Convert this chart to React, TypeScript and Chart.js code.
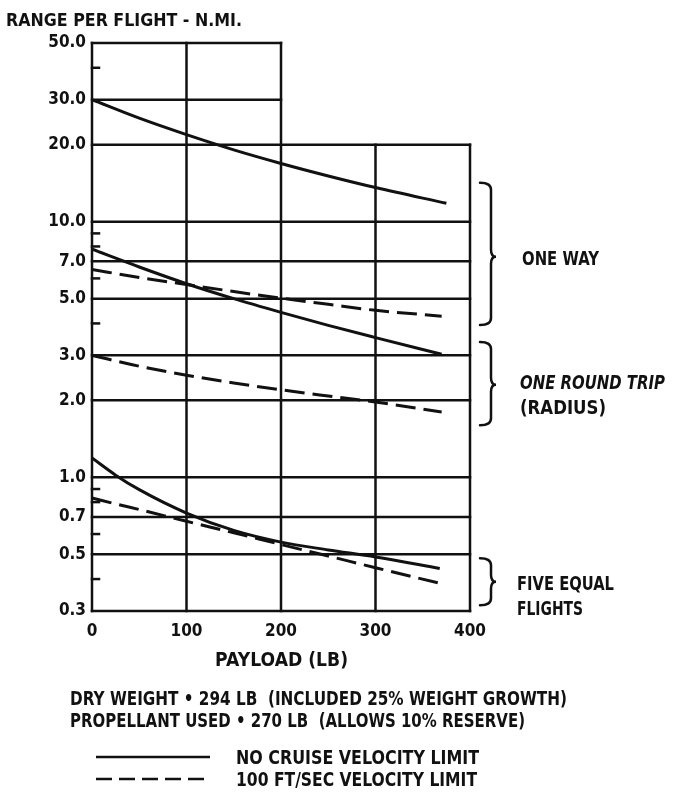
import { useEffect, useRef } from "react";
import { Chart, registerables } from "chart.js";

Chart.register(...registerables);

// ---- Data ----
const payloadLbTop = [0, 50, 100, 150, 200, 250, 300, 375];
const payloadLb = [0, 50, 100, 150, 200, 250, 300, 370];
const payloadLbFive = [0, 25, 50, 100, 150, 200, 250, 300, 368];

const oneWayNoLimit = [30, 25.4, 21.9, 19.1, 16.9, 15.1, 13.6, 11.8];
const secondNoLimit = [7.8, 6.65, 5.72, 5.0, 4.42, 3.93, 3.52, 3.03];
const oneWayVelLimit = [6.5, 6.05, 5.68, 5.33, 5.02, 4.75, 4.5, 4.27];
const roundTripVelLimit = [3.0, 2.72, 2.51, 2.34, 2.2, 2.08, 1.97, 1.8];
const fiveFlightsNoLimit = [1.19, 1.02, 0.895, 0.725, 0.62, 0.558, 0.52, 0.488, 0.44];
const fiveFlightsVelLimit = [0.83, 0.787, 0.748, 0.673, 0.607, 0.546, 0.492, 0.443, 0.385];

const yTickValues = [0.3, 0.5, 0.7, 1, 2, 3, 5, 7, 10, 20, 30, 50];
const yTickLabels = ["0.3", "0.5", "0.7", "1.0", "2.0", "3.0", "5.0", "7.0", "10.0", "20.0", "30.0", "50.0"];
const yMinorTicks = [40, 9, 8, 6, 4, 0.9, 0.8, 0.6, 0.4];
const yFullGrid = [20, 10, 7, 5, 3, 2, 1, 0.7, 0.5, 0.3];
const yPartialGrid = [50, 30];
const xGridTall = [0, 100, 200];
const xGridShort = [300, 400];

const braces = [
  { from: 14.2, to: 3.94, tip: 7.3 },
  { from: 3.38, to: 1.6, tip: 2.3 },
  { from: 0.483, to: 0.316, tip: 0.39 },
];

const INK = "#111111";
const FONT_STACK = '"DejaVu Sans Condensed", "Liberation Sans Narrow", "DejaVu Sans", sans-serif';
const TEXT_FONT = '"DejaVu Sans", "Liberation Sans", sans-serif';

function pts(xs: number[], ys: number[]) {
  return xs.map((x, i) => ({ x, y: ys[i] }));
}

function fitText(
  ctx: CanvasRenderingContext2D,
  text: string,
  x: number,
  capCenterY: number,
  width: number,
  size: number,
  italic = false
) {
  ctx.save();
  ctx.font = `${italic ? "italic " : ""}bold ${size}px ${TEXT_FONT}`;
  const w = ctx.measureText(text).width;
  ctx.translate(x, capCenterY + size * 0.365);
  ctx.scale(width / w, 1);
  ctx.textAlign = "left";
  ctx.textBaseline = "alphabetic";
  ctx.fillStyle = INK;
  ctx.fillText(text, 0, 0);
  ctx.restore();
}

const gridPlugin = {
  id: "customGrid",
  beforeDatasetsDraw(chart: any) {
    const { ctx, scales } = chart;
    const xs = scales.x;
    const ys = scales.y;
    ctx.save();
    ctx.strokeStyle = INK;
    ctx.lineWidth = 2.5;
    ctx.lineCap = "square";
    const seg = (x0: number, y0: number, x1: number, y1: number) => {
      ctx.beginPath();
      ctx.moveTo(x0, y0);
      ctx.lineTo(x1, y1);
      ctx.stroke();
    };
    yFullGrid.forEach((v) => {
      const py = ys.getPixelForValue(v);
      seg(xs.getPixelForValue(0), py, xs.getPixelForValue(400), py);
    });
    yPartialGrid.forEach((v) => {
      const py = ys.getPixelForValue(v);
      seg(xs.getPixelForValue(0), py, xs.getPixelForValue(200), py);
    });
    xGridTall.forEach((v) => {
      const px = xs.getPixelForValue(v);
      seg(px, ys.getPixelForValue(0.3), px, ys.getPixelForValue(50));
    });
    xGridShort.forEach((v) => {
      const px = xs.getPixelForValue(v);
      seg(px, ys.getPixelForValue(0.3), px, ys.getPixelForValue(20));
    });
    const x0 = xs.getPixelForValue(0);
    yMinorTicks.forEach((v) => {
      const py = ys.getPixelForValue(v);
      seg(x0, py, x0 + 7, py);
    });
    ctx.restore();
  },
};

const overlayPlugin = {
  id: "overlay",
  afterDraw(chart: any) {
    const { ctx, scales } = chart;
    const xs = scales.x;
    const ys = scales.y;
    ctx.save();
    // y-axis title
    fitText(ctx, "RANGE PER FLIGHT - N.MI.", 6, 19, 236, 18);
    // x-axis title
    fitText(ctx, "PAYLOAD (LB)", 215, 659, 133, 19);

    // braces
    ctx.strokeStyle = INK;
    ctx.lineWidth = 2.5;
    ctx.lineCap = "round";
    const bx = xs.getPixelForValue(400) + 10;
    braces.forEach((b) => {
      const yTop = ys.getPixelForValue(b.from);
      const yBot = ys.getPixelForValue(b.to);
      const yTip = ys.getPixelForValue(b.tip);
      const xm = bx + 11;
      const xt = bx + 16;
      const r = 7;
      ctx.beginPath();
      ctx.moveTo(bx, yTop);
      ctx.quadraticCurveTo(xm, yTop, xm, yTop + r);
      ctx.lineTo(xm, yTip - r);
      ctx.quadraticCurveTo(xm, yTip, xt, yTip);
      ctx.quadraticCurveTo(xm, yTip, xm, yTip + r);
      ctx.lineTo(xm, yBot - r);
      ctx.quadraticCurveTo(xm, yBot, bx, yBot);
      ctx.stroke();
    });

    // right-hand labels
    fitText(ctx, "ONE WAY", 522, 258, 77, 20);
    fitText(ctx, "ONE ROUND TRIP", 520, 382, 145, 20, true);
    fitText(ctx, "(RADIUS)", 520, 407, 86, 20);
    fitText(ctx, "FIVE EQUAL", 517, 583, 97, 20);
    fitText(ctx, "FLIGHTS", 517, 608, 66, 20);

    // notes
    fitText(ctx, "DRY WEIGHT • 294 LB  (INCLUDED 25% WEIGHT GROWTH)", 70, 698, 497, 19);
    fitText(ctx, "PROPELLANT USED • 270 LB  (ALLOWS 10% RESERVE)", 70, 720, 455, 19);

    // legend
    ctx.lineWidth = 2.5;
    ctx.lineCap = "butt";
    ctx.beginPath();
    ctx.moveTo(96, 757);
    ctx.lineTo(210, 757);
    ctx.stroke();
    ctx.setLineDash([16, 7]);
    ctx.beginPath();
    ctx.moveTo(96, 779);
    ctx.lineTo(210, 779);
    ctx.stroke();
    ctx.setLineDash([]);
    fitText(ctx, "NO CRUISE VELOCITY LIMIT", 236, 757, 243, 19);
    fitText(ctx, "100 FT/SEC VELOCITY LIMIT", 236, 779, 241, 19);
    ctx.restore();
  },
};

export default function App() {
  const canvasRef = useRef<HTMLCanvasElement | null>(null);

  useEffect(() => {
    const canvas = canvasRef.current;
    if (!canvas) return;
    const solid = { borderColor: INK, borderWidth: 3, pointRadius: 0, fill: false, cubicInterpolationMode: "monotone" as const };
    const dashed = { ...solid, borderDash: [20, 8] };
    const chart = new Chart(canvas, {
      type: "line",
      data: {
        datasets: [
          { label: "One way - no cruise velocity limit", data: pts(payloadLbTop, oneWayNoLimit), ...solid },
          { label: "No cruise velocity limit (2)", data: pts(payloadLb, secondNoLimit), ...solid },
          { label: "One way - 100 ft/sec limit", data: pts(payloadLb, oneWayVelLimit), ...dashed },
          { label: "Round trip - 100 ft/sec limit", data: pts(payloadLb, roundTripVelLimit), ...dashed },
          { label: "Five flights - no limit", data: pts(payloadLbFive, fiveFlightsNoLimit), ...solid },
          { label: "Five flights - 100 ft/sec limit", data: pts(payloadLbFive, fiveFlightsVelLimit), ...dashed },
        ],
      },
      options: {
        animation: false,
        responsive: false,
        maintainAspectRatio: false,
        layout: { padding: { left: 0, top: 43, right: 208, bottom: 796 - 611 - 40 } },
        plugins: { legend: { display: false }, tooltip: { enabled: false } },
        scales: {
          x: {
            type: "linear",
            min: 0,
            max: 400,
            grid: { display: false, drawTicks: false },
            border: { display: false },
            ticks: {
              stepSize: 100,
              color: INK,
              padding: 10,
              maxRotation: 0,
              font: { family: FONT_STACK, size: 17, weight: "bold" },
            },
            afterFit: (s: any) => {
              s.height = 40;
            },
          },
          y: {
            type: "logarithmic",
            min: 0.3,
            max: 50,
            grid: { display: false, drawTicks: false },
            border: { display: false },
            afterBuildTicks: (s: any) => {
              s.ticks = yTickValues.map((v) => ({ value: v }));
            },
            ticks: {
              autoSkip: false,
              color: INK,
              padding: 6,
              font: { family: FONT_STACK, size: 17, weight: "bold" },
              callback: (v: any) => {
                const i = yTickValues.indexOf(Number(v));
                return i >= 0 ? yTickLabels[i] : "";
              },
            },
            afterFit: (s: any) => {
              s.width = 92;
            },
          },
        },
      },
      plugins: [gridPlugin, overlayPlugin],
    });
    return () => chart.destroy();
  }, []);

  return (
    <div style={{ position: "absolute", left: 0, top: 0, width: 678, height: 796, background: "#fff" }}>
      <canvas ref={canvasRef} width={678} height={796} style={{ width: 678, height: 796, display: "block" }} />
    </div>
  );
}
